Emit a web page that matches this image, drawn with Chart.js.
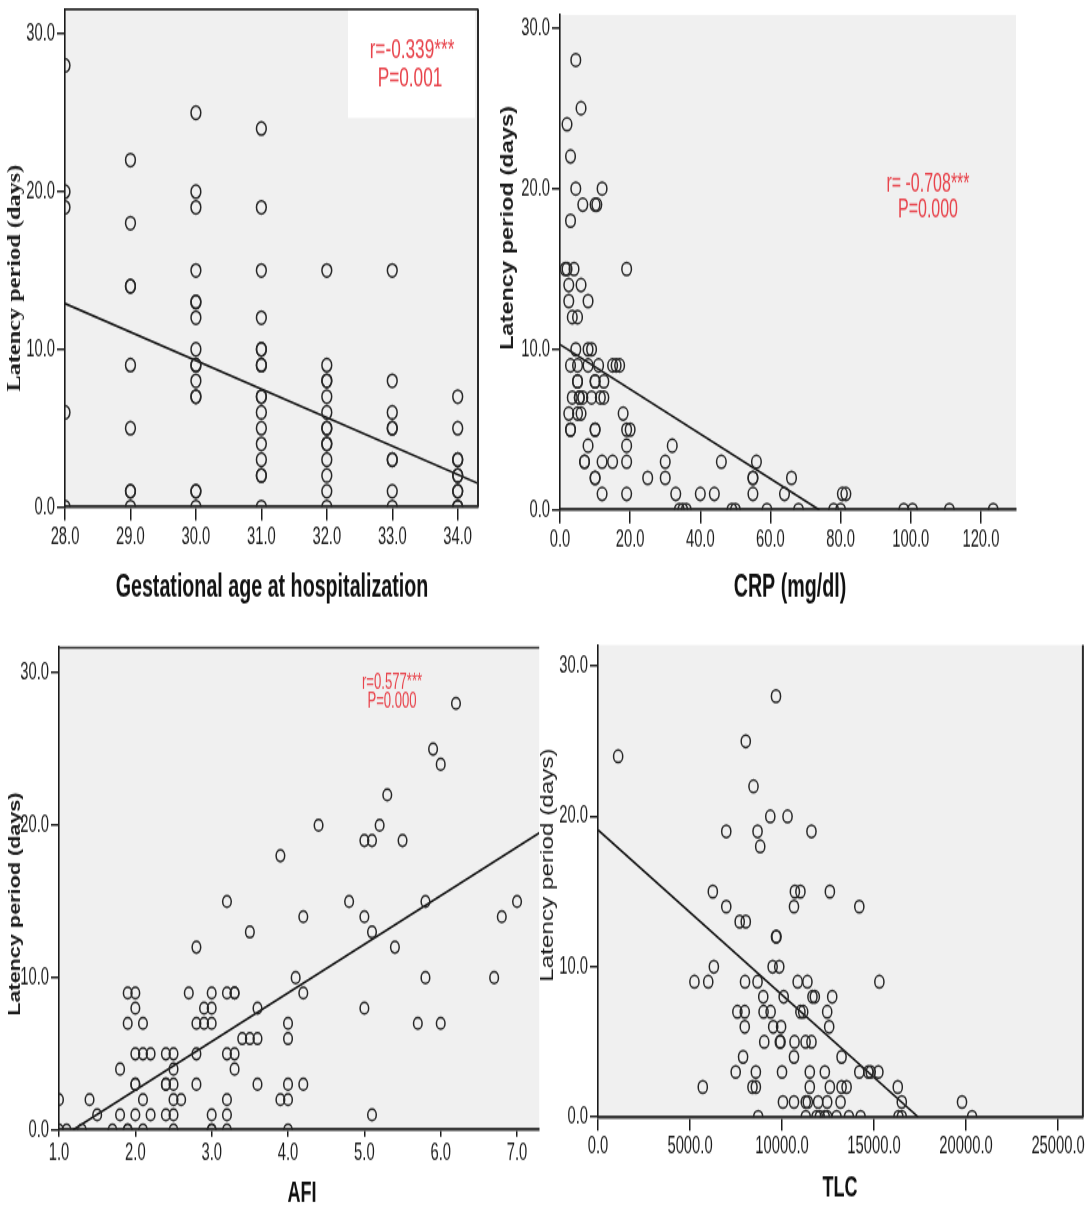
<!DOCTYPE html>
<html>
<head>
<meta charset="utf-8">
<script src="https://cdn.jsdelivr.net/npm/chart.js@4.4.1/dist/chart.umd.min.js"></script>
<style>
  html, body { margin: 0; padding: 0; background: #fff; }
  body { position: relative; width: 1089px; height: 1207px; overflow: hidden; }
</style>
</head>
<body>
<script>
// --- data ---
const latencyTicks = [0, 10, 20, 30];

// gestational age (weeks) vs latency (days)
const gaWeeks = [
  28, 28, 28, 28, 28,
  29, 29, 29, 29, 29, 29, 29, 29, 29,
  30, 30, 30, 30, 30, 30, 30, 30, 30, 30, 30, 30, 30, 30, 30, 30,
  31, 31, 31, 31, 31, 31, 31, 31, 31, 31, 31, 31, 31, 31, 31, 31, 31,
  32, 32, 32, 32, 32, 32, 32, 32, 32, 32, 32, 32, 32, 32,
  33, 33, 33, 33, 33, 33, 33, 33, 33,
  34, 34, 34, 34, 34, 34, 34, 34, 34, 34
];
const gaLatency = [
  28, 20, 19, 6, 0,
  22, 18, 14, 14, 9, 5, 1, 1, 0,
  25, 20, 19, 15, 13, 13, 12, 10, 9, 9, 8, 7, 7, 1, 1, 0,
  24, 19, 15, 12, 10, 10, 9, 9, 7, 7, 6, 5, 4, 3, 2, 2, 0,
  15, 9, 8, 8, 7, 6, 5, 5, 4, 4, 3, 2, 1, 0,
  15, 8, 6, 5, 5, 3, 3, 1, 0,
  7, 5, 3, 3, 2, 2, 1, 1, 0, 0
];
const gaTicks = [28, 29, 30, 31, 32, 33, 34];
const gaFitX = [28, 34.31];
const gaFitY = [12.9, 1.5];

// CRP (mg/dl) vs latency
const crp = [
  4.5, 6, 2, 3, 4.5, 12, 6.5, 10, 10.5, 3,
  1.5, 2, 4, 19, 2.5, 6, 2.5, 8, 3.5, 5,
  4.5, 8, 9,
  3, 5, 8, 11, 15, 16, 17,
  5, 5, 10, 10, 12.5,
  3.5, 5.5, 5.5, 6.5, 9, 11.5, 12.5,
  2.5, 5, 6, 18,
  3, 3, 10, 10, 19, 20,
  8, 19, 32,
  7, 7, 12, 15, 19, 30, 46, 56,
  10, 10, 25, 30, 55, 55, 66,
  12, 19, 33, 40, 44, 55, 64, 80.5, 81.5,
  34, 35, 36, 49, 50, 59, 68, 78, 80, 98, 100.5, 111, 123.5
];
const crpLatency = [
  28, 25, 24, 22, 20, 20, 19, 19, 19, 18,
  15, 15, 15, 15, 14, 14, 13, 13, 12, 12,
  10, 10, 10,
  9, 9, 9, 9, 9, 9, 9,
  8, 8, 8, 8, 8,
  7, 7, 7, 7, 7, 7, 7,
  6, 6, 6, 6,
  5, 5, 5, 5, 5, 5,
  4, 4, 4,
  3, 3, 3, 3, 3, 3, 3, 3,
  2, 2, 2, 2, 2, 2, 2,
  1, 1, 1, 1, 1, 1, 1, 1, 1,
  0, 0, 0, 0, 0, 0, 0, 0, 0, 0, 0, 0, 0
];
const crpTicks = [0, 20, 40, 60, 80, 100, 120];
const crpFitX = [0, 74];
const crpFitY = [10.3, 0];

// AFI vs latency
const afi = [
  6.2, 5.9, 6.0, 5.3, 4.4, 5.2, 5.0, 5.1, 5.5, 3.9,
  3.2, 4.8, 5.8, 7.0, 4.2, 5.0, 6.8, 3.5, 5.1, 2.8, 5.4,
  4.1, 5.8, 6.7,
  1.9, 2.0, 2.7, 3.0, 3.2, 3.3, 3.3, 4.2,
  2.0, 2.9, 3.0, 3.6, 5.0,
  1.9, 2.1, 2.8, 2.9, 3.0, 4.0, 5.7, 6.0,
  3.4, 3.5, 3.6, 4.0,
  2.0, 2.1, 2.2, 2.4, 2.5, 2.8, 3.2, 3.3,
  1.8, 2.5, 3.3,
  2.0, 2.0, 2.4, 2.4, 2.5, 2.8, 3.6, 4.0, 4.2,
  1.0, 1.4, 2.1, 2.5, 2.6, 3.2, 3.9, 4.0,
  1.5, 1.8, 2.0, 2.2, 2.4, 2.5, 3.0, 3.2, 5.1,
  1.0, 1.1, 1.3, 1.7, 1.9, 1.9, 2.1, 2.5, 3.0, 3.0, 3.2, 4.0
];
const afiLatency = [
  28, 25, 24, 22, 20, 20, 19, 19, 19, 18,
  15, 15, 15, 15, 14, 14, 14, 13, 13, 12, 12,
  10, 10, 10,
  9, 9, 9, 9, 9, 9, 9, 9,
  8, 8, 8, 8, 8,
  7, 7, 7, 7, 7, 7, 7, 7,
  6, 6, 6, 6,
  5, 5, 5, 5, 5, 5, 5, 5,
  4, 4, 4,
  3, 3, 3, 3, 3, 3, 3, 3, 3,
  2, 2, 2, 2, 2, 2, 2, 2,
  1, 1, 1, 1, 1, 1, 1, 1, 1,
  0, 0, 0, 0, 0, 0, 0, 0, 0, 0, 0, 0
];
const afiTicks = [1, 2, 3, 4, 5, 6, 7];
const afiFitX = [1.18, 7.29];
const afiFitY = [0, 19.5];

// TLC vs latency
const tlc = [
  9672, 8030, 1095, 8450, 9362, 10300,
  6970, 8670, 11600, 8815,
  6240, 10700, 11000, 12600,
  6970, 10650, 14200,
  7700, 8030, 9672, 9700,
  6296, 9490, 9850,
  5240, 5990, 7990, 8670, 10850, 11380, 15290,
  8980, 10090, 11654, 11782, 12727,
  7574, 7975, 8997, 9380, 11000, 11150, 12454,
  7975, 9520, 9950, 12563,
  9034, 9880, 9920, 10680, 11280, 11600,
  7884, 10650, 13236,
  7483, 8578, 10000, 11509, 12327, 14200, 14690, 14818, 15236,
  5694, 8395, 8578, 11509, 12600, 13236, 13509, 16290,
  10050, 10650, 11290, 11400, 11963, 12454, 13181, 16509, 19781,
  8705, 11290, 11872, 12054, 12327, 12454, 12963, 13636, 14272, 16327, 16509, 20327
];
const tlcLatency = [
  28, 25, 24, 22, 20, 20,
  19, 19, 19, 18,
  15, 15, 15, 15,
  14, 14, 14,
  13, 13, 12, 12,
  10, 10, 10,
  9, 9, 9, 9, 9, 9, 9,
  8, 8, 8, 8, 8,
  7, 7, 7, 7, 7, 7, 7,
  6, 6, 6, 6,
  5, 5, 5, 5, 5, 5,
  4, 4, 4,
  3, 3, 3, 3, 3, 3, 3, 3, 3,
  2, 2, 2, 2, 2, 2, 2, 2,
  1, 1, 1, 1, 1, 1, 1, 1, 1,
  0, 0, 0, 0, 0, 0, 0, 0, 0, 0, 0, 0
];
const tlcTicks = [0, 5000, 10000, 15000, 20000, 25000];
const tlcFitX = [0, 17400];
const tlcFitY = [19.1, 0];

// the source picture is stretched vertically; charts are drawn short and scaled
const S = 1.35;
// no narrow face installed: squeeze the glyphs horizontally instead
const SQ = 0.82;
const SANS = '"Liberation Sans", Arial, sans-serif';
const INK = '#1c1c1c';
const RED = '#e8434b';

const pts = (xs, ys) => xs.map((x, i) => ({ x: x, y: ys[i] }));

function squeezedText(ctx, text, x, y, font, color, align, base, sx, rot) {
  ctx.save();
  ctx.translate(x, y);
  if (rot) ctx.rotate(-Math.PI / 2);
  ctx.scale(sx, 1);
  ctx.font = font;
  ctx.fillStyle = color;
  ctx.textAlign = align;
  ctx.textBaseline = base;
  ctx.fillText(text, 0, 0);
  ctx.restore();
}

const decor = {
  id: 'decor',
  beforeDraw(chart, args, o) {
    const { ctx, chartArea: a } = chart;
    ctx.save();
    ctx.fillStyle = '#f0f0f0';
    ctx.fillRect(a.left, a.top, a.width, a.height);
    if (o.box) {
      ctx.fillStyle = '#fff';
      ctx.fillRect(o.box[0], o.box[1], o.box[2], o.box[3]);
    }
    ctx.restore();
  },
  afterDatasetsDraw(chart, args, o) {
    const { ctx, chartArea: a } = chart;
    ctx.save();
    ctx.strokeStyle = '#2a2a2a';
    if (o.frameTop) {
      ctx.lineWidth = 1.6;
      ctx.beginPath(); ctx.moveTo(a.left, a.top + 0.5); ctx.lineTo(a.right, a.top + 0.5); ctx.stroke();
    }
    if (o.frameRight) {
      ctx.lineWidth = 2;
      ctx.beginPath(); ctx.moveTo(a.right, a.top); ctx.lineTo(a.right, a.bottom); ctx.stroke();
    }
    ctx.restore();
  },
  afterDraw(chart, args, o) {
    const { ctx, chartArea: a, scales } = chart;
    const tickFont = '18px ' + SANS;
    // tick labels, placed by the library's scales
    scales.x.ticks.forEach(t => {
      const px = scales.x.getPixelForValue(t.value);
      squeezedText(ctx, t.value.toFixed(1), px, a.bottom + o.xTickLen + 3, tickFont, INK, 'center', 'top', SQ);
    });
    scales.y.ticks.forEach(t => {
      const py = scales.y.getPixelForValue(t.value);
      squeezedText(ctx, t.value.toFixed(1), a.left - 10, py, tickFont, INK, 'right', 'middle', SQ);
    });
    (o.notes || []).forEach(n => {
      squeezedText(ctx, n.text, n.x, n.y, n.font, n.color || INK, 'center', 'middle', n.sx || 1, n.rot);
    });
  }
};

function makePanel(p) {
  const canvas = document.createElement('canvas');
  const ch = Math.round(p.h / S);
  canvas.width = p.w;
  canvas.height = ch;
  canvas.style.cssText = 'position:absolute;left:' + p.left + 'px;top:' + p.top +
    'px;transform:scaleY(' + S + ');transform-origin:0 0;';
  document.body.appendChild(canvas);

  const padTop = (p.area.t - p.top) / S;
  const xHeight = ch - (p.area.b - p.top) / S;
  const yWidth = p.area.l - p.left;
  const padRight = p.left + p.w - p.area.r;
  // page coordinates -> canvas coordinates
  const cx = x => x - p.left;
  const cy = y => (y - p.top) / S;

  const notes = p.notes.map(n => Object.assign({}, n, { x: cx(n.x), y: cy(n.y) }));
  const box = p.box ? [cx(p.box[0]), cy(p.box[1]), p.box[2], p.box[3] / S] : null;
  const noPad = s => { s.paddingTop = 0; s.paddingBottom = 0; s.paddingLeft = 0; s.paddingRight = 0; };

  new Chart(canvas, {
    type: 'scatter',
    data: {
      datasets: [
        {
          data: pts(p.xs, p.ys),
          pointStyle: 'circle',
          pointRadius: p.r,
          pointBorderWidth: 1.5,
          pointBorderColor: '#262626',
          pointBackgroundColor: 'rgba(0,0,0,0)'
        },
        {
          type: 'line',
          data: pts(p.fitX, p.fitY),
          showLine: true,
          pointRadius: 0,
          borderColor: '#151515',
          borderWidth: 1.6,
          fill: false
        }
      ]
    },
    options: {
      responsive: false,
      animation: false,
      events: [],
      layout: { padding: { top: padTop, right: padRight, left: 0, bottom: 0 } },
      plugins: {
        legend: { display: false },
        tooltip: { enabled: false },
        decor: { box: box, frameTop: p.frameTop, frameRight: p.frameRight, notes: notes, xTickLen: p.xTickLen }
      },
      scales: {
        x: {
          type: 'linear',
          min: p.xMin,
          max: p.xMax,
          afterFit: s => { s.height = xHeight; noPad(s); },
          afterBuildTicks: s => { s.ticks = p.xTicks.map(v => ({ value: v })); },
          grid: { drawOnChartArea: false, drawTicks: true, tickLength: p.xTickLen, color: INK, lineWidth: 1.5 },
          border: { display: true, color: '#3a3a3a', width: 2.6 },
          ticks: { display: false }
        },
        y: {
          type: 'linear',
          min: 0,
          max: p.yMax,
          afterFit: s => { s.width = yWidth; noPad(s); },
          afterBuildTicks: s => { s.ticks = latencyTicks.map(v => ({ value: v })); },
          grid: { drawOnChartArea: false, drawTicks: true, tickLength: 8, color: INK, lineWidth: 1.5 },
          border: { display: true, color: '#1a1a1a', width: 1.6 },
          ticks: { display: false }
        }
      }
    },
    plugins: [decor]
  });
}

makePanel({
  left: 0, top: 0, w: 490, h: 610,
  area: { l: 65, r: 478, t: 8, b: 507 },
  xs: gaWeeks, ys: gaLatency, fitX: gaFitX, fitY: gaFitY,
  xMin: 28, xMax: 34.31, xTicks: gaTicks, yMax: 31.6, r: 4.9, xTickLen: 10,
  frameTop: true, frameRight: true,
  box: [348, 8, 127, 110],
  notes: [
    { text: 'Gestational age at hospitalization', x: 272, y: 588, sx: SQ, font: 'bold 24px ' + SANS, color: '#111' },
    { text: 'Latency period (days)', x: 15, y: 278, rot: true, font: 'bold 18px "Liberation Serif", serif' },
    { text: 'r=-0.339***', x: 412, y: 50, sx: SQ, font: '21px ' + SANS, color: RED },
    { text: 'P=0.001', x: 410, y: 79, sx: SQ, font: '21px ' + SANS, color: RED }
  ]
});

makePanel({
  left: 490, top: 0, w: 599, h: 610,
  area: { l: 560, r: 1016, t: 15, b: 510 },
  xs: crp, ys: crpLatency, fitX: crpFitX, fitY: crpFitY,
  xMin: 0, xMax: 130, xTicks: crpTicks, yMax: 30.8, r: 4.8, xTickLen: 10,
  frameTop: false, frameRight: false,
  notes: [
    { text: 'CRP (mg/dl)', x: 790, y: 588, sx: SQ, font: 'bold 24px ' + SANS, color: '#111' },
    { text: 'Latency period (days)', x: 508, y: 228, rot: true, font: 'bold 17.5px ' + SANS },
    { text: 'r= -0.708***', x: 928, y: 185, sx: SQ, font: '19.5px ' + SANS, color: RED },
    { text: 'P=0.000', x: 928, y: 210, sx: SQ, font: '19.5px ' + SANS, color: RED }
  ]
});

makePanel({
  left: 0, top: 620, w: 545, h: 587,
  area: { l: 59, r: 540, t: 647, b: 1130 },
  xs: afi, ys: afiLatency, fitX: afiFitX, fitY: afiFitY,
  xMin: 1, xMax: 7.29, xTicks: afiTicks, yMax: 31.7, r: 4.3, xTickLen: 5,
  frameTop: true, frameRight: false,
  notes: [
    { text: 'AFI', x: 302, y: 1193, sx: SQ, font: 'bold 22px ' + SANS, color: '#111' },
    { text: 'Latency period (days)', x: 16, y: 904, rot: true, font: 'bold 16px ' + SANS },
    { text: 'r=0.577***', x: 392, y: 683, sx: SQ, font: '16px ' + SANS, color: RED },
    { text: 'P=0.000', x: 392, y: 702, sx: SQ, font: '16px ' + SANS, color: RED }
  ]
});

makePanel({
  left: 530, top: 620, w: 559, h: 587,
  area: { l: 598, r: 1083, t: 645, b: 1117 },
  xs: tlc, ys: tlcLatency, fitX: tlcFitX, fitY: tlcFitY,
  xMin: 0, xMax: 26350, xTicks: tlcTicks, yMax: 31.4, r: 4.6, xTickLen: 10,
  frameTop: false, frameRight: true,
  notes: [
    { text: 'TLC', x: 840, y: 1188, sx: SQ, font: 'bold 22px ' + SANS, color: '#111' },
    { text: 'Latency period (days)', x: 548, y: 865, rot: true, font: '18px ' + SANS }
  ]
});
</script>
</body>
</html>
